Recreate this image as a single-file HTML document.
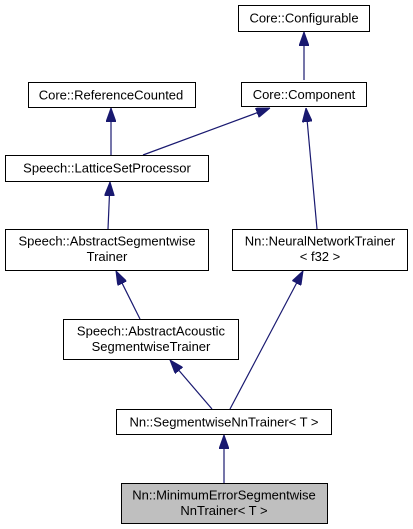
<!DOCTYPE html>
<html><head><meta charset="utf-8"><style>
html,body{margin:0;padding:0;background:#fff;}
svg{display:block;}
text{font-family:"Liberation Sans",Arial,sans-serif;font-size:13px;fill:#000;text-anchor:middle;}
rect{stroke:#000;stroke-width:1;fill:#fff;}
line{stroke:#191970;stroke-width:1.2;}
</style></head><body>
<svg width="413" height="529" viewBox="0 0 413 529">
<defs>
<marker id="a" viewBox="0 0 14 10" refX="14" refY="5" markerWidth="14" markerHeight="10" markerUnits="userSpaceOnUse" orient="auto">
<polygon points="0,0 14,5 0,10" style="fill:#191970;stroke:#191970"/>
</marker>
</defs>
<line x1="304" y1="80" x2="304" y2="32" marker-end="url(#a)"/>
<line x1="111" y1="155" x2="111" y2="108" marker-end="url(#a)"/>
<line x1="143" y1="155" x2="270" y2="108" marker-end="url(#a)"/>
<line x1="317" y1="229" x2="306" y2="108" marker-end="url(#a)"/>
<line x1="108" y1="229" x2="110" y2="182" marker-end="url(#a)"/>
<line x1="140" y1="319" x2="116" y2="271" marker-end="url(#a)"/>
<line x1="230" y1="409" x2="303" y2="271" marker-end="url(#a)"/>
<line x1="212" y1="409" x2="170" y2="360" marker-end="url(#a)"/>
<line x1="224" y1="483" x2="224" y2="435" marker-end="url(#a)"/>

<rect x="238.5" y="5.5" width="131" height="26"/><text x="304" y="22.5">Core::Configurable</text>
<rect x="28.5" y="82.5" width="167" height="25"/><text x="111" y="99.5">Core::ReferenceCounted</text>
<rect x="241.5" y="82.5" width="125" height="24"/><text x="304" y="99">Core::Component</text>
<rect x="5.5" y="155.5" width="203" height="26"/><text x="107" y="172.5">Speech::LatticeSetProcessor</text>
<rect x="5.5" y="229.5" width="203" height="41"/><text x="107" y="245.5">Speech::AbstractSegmentwise</text><text x="107" y="261">Trainer</text>
<rect x="232.5" y="229.5" width="175" height="41"/><text x="320" y="245.5">Nn::NeuralNetworkTrainer</text><text x="320" y="261">&lt; f32 &gt;</text>
<rect x="63.5" y="319.5" width="175" height="40"/><text x="151" y="335.5">Speech::AbstractAcoustic</text><text x="151" y="351">SegmentwiseTrainer</text>
<rect x="116.5" y="409.5" width="215" height="25"/><text x="224" y="426.5">Nn::SegmentwiseNnTrainer&lt; T &gt;</text>
<rect x="121.5" y="483.5" width="206" height="40" style="fill:#bfbfbf"/><text x="224" y="499.5">Nn::MinimumErrorSegmentwise</text><text x="224" y="515">NnTrainer&lt; T &gt;</text>
</svg>
</body></html>
